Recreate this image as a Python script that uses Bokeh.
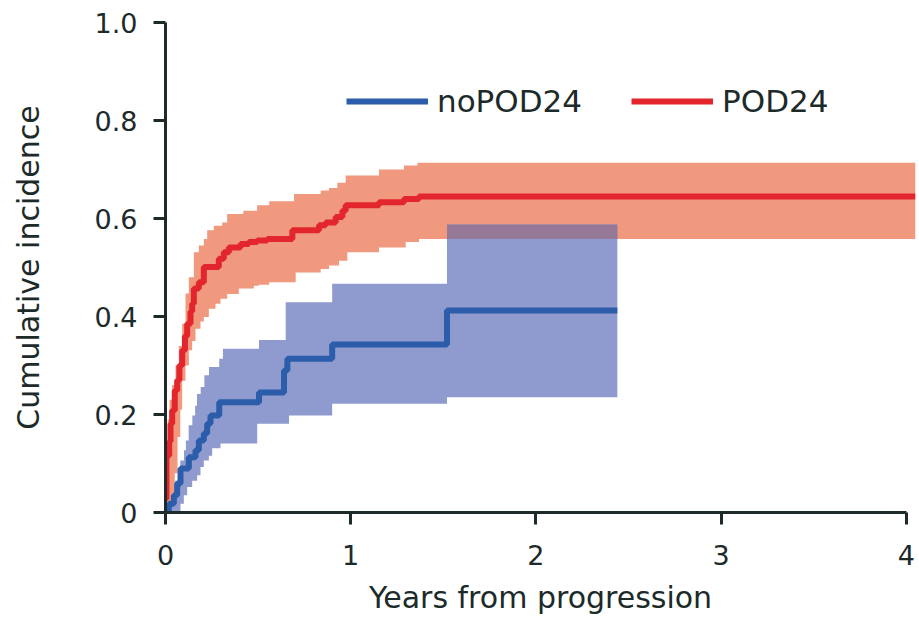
import numpy as np
from bokeh.plotting import figure
from bokeh.models import Range1d, FixedTicker, Legend, LegendItem
from bokeh.embed import file_html
from bokeh.resources import INLINE

# ---- data ----
# POD24 cumulative incidence (step, "after")
pod_x = [0.0, 0.005, 0.02, 0.027, 0.036, 0.05, 0.063, 0.075, 0.09, 0.105, 0.117, 0.135,
         0.144, 0.153, 0.18, 0.207, 0.288, 0.315, 0.342, 0.405, 0.45, 0.495, 0.55, 0.685,
         0.829, 0.865, 0.919, 0.955, 0.973, 1.153, 1.288, 1.369, 4.05]
pod_y = [0.028, 0.116, 0.145, 0.181, 0.208, 0.249, 0.27, 0.30, 0.331, 0.36, 0.385, 0.41,
         0.426, 0.457, 0.47, 0.501, 0.518, 0.531, 0.541, 0.548, 0.552, 0.555, 0.558, 0.576,
         0.586, 0.592, 0.603, 0.616, 0.627, 0.633, 0.64, 0.645, 0.645]
pod_up_x = [0.0, 0.004, 0.012, 0.022, 0.035, 0.054, 0.072, 0.09, 0.108, 0.126, 0.153, 0.18,
            0.207, 0.225, 0.261, 0.306, 0.333, 0.42, 0.495, 0.56, 0.694, 0.838, 0.883,
            0.928, 0.973, 1.153, 1.288, 1.36, 4.05]
pod_up_y = [0.04, 0.14, 0.19, 0.23, 0.26, 0.30, 0.34, 0.385, 0.447, 0.48, 0.531, 0.545,
            0.558, 0.576, 0.585, 0.592, 0.609, 0.616, 0.627, 0.635, 0.65, 0.657, 0.662,
            0.673, 0.688, 0.70, 0.708, 0.714, 0.714]
pod_lo_x = [0.0, 0.03, 0.05, 0.065, 0.08, 0.09, 0.108, 0.126, 0.144, 0.162, 0.189, 0.207,
            0.234, 0.27, 0.297, 0.333, 0.396, 0.477, 0.504, 0.56, 0.703, 0.838, 0.883,
            0.937, 0.982, 1.153, 1.297, 1.369, 4.05]
pod_lo_y = [0.0, 0.02, 0.08, 0.154, 0.21, 0.269, 0.30, 0.331, 0.35, 0.375, 0.39, 0.399,
            0.416, 0.426, 0.436, 0.446, 0.457, 0.463, 0.465, 0.47, 0.49, 0.497, 0.504,
            0.514, 0.531, 0.541, 0.552, 0.558, 0.558]

# noPOD24 cumulative incidence
nopod_x = [0.01, 0.018, 0.045, 0.063, 0.081, 0.126, 0.162, 0.18, 0.207, 0.225, 0.243,
           0.29, 0.505, 0.64, 0.658, 0.9, 1.52, 2.44]
nopod_y = [0.0, 0.018, 0.035, 0.059, 0.09, 0.113, 0.127, 0.147, 0.161, 0.181, 0.198,
           0.225, 0.245, 0.29, 0.314, 0.343, 0.412, 0.412]
nopod_up_x = [0.02, 0.05, 0.08, 0.10, 0.11, 0.125, 0.145, 0.16, 0.17, 0.19, 0.21, 0.235,
              0.29, 0.31, 0.505, 0.649, 0.9, 1.52, 2.44]
nopod_up_y = [0.018, 0.065, 0.106, 0.127, 0.147, 0.178, 0.198, 0.218, 0.242, 0.256, 0.28,
              0.297, 0.314, 0.334, 0.352, 0.429, 0.467, 0.588, 0.588]
nopod_lo_x = [0.02, 0.081, 0.099, 0.117, 0.144, 0.171, 0.189, 0.207, 0.234, 0.252, 0.297,
              0.495, 0.667, 0.9, 1.52, 2.44]
nopod_lo_y = [0.0, 0.018, 0.035, 0.052, 0.065, 0.076, 0.093, 0.106, 0.116, 0.131, 0.141,
              0.181, 0.198, 0.222, 0.235, 0.235]

x_ticks = [0, 1, 2, 3, 4]
y_ticks = [0, 0.2, 0.4, 0.6, 0.8, 1.0]
y_tick_labels = ["0", "0.2", "0.4", "0.6", "0.8", "1.0"]
series_names = ["noPOD24", "POD24"]


def merge_band(ux, uy, lx, ly):
    xs = np.union1d(ux, lx)
    ui = np.searchsorted(ux, xs, side="right") - 1
    li = np.searchsorted(lx, xs, side="right") - 1
    up = np.array(uy)[np.clip(ui, 0, None)]
    lo = np.array(ly)[np.clip(li, 0, None)]
    return xs, lo, up


def step_val(xs_src, ys_src, xs):
    i = np.searchsorted(xs_src, xs, side="right") - 1
    v = np.array(ys_src)[np.clip(i, 0, None)]
    return np.where(i < 0, np.nan, v)


TEXT = "#1d2a2a"
RED = "#E3262D"
BLUE = "#2C5DAA"
SALMON = "#F0997E"
LBLUE = "#8F9BCE"
OVERLAP = "#967897"

p = figure(frame_width=750, frame_height=490,
           x_range=Range1d(0, 4.05), y_range=Range1d(0, 1.0),
           output_backend="svg", toolbar_location=None,
           min_border_left=165, min_border_top=22, min_border_right=3,
           min_border_bottom=10)
p.xgrid.visible = False
p.ygrid.visible = False
p.outline_line_color = None
p.background_fill_color = "white"

# bands
rx, rlo, rup = merge_band(pod_up_x, pod_up_y, pod_lo_x, pod_lo_y)
p.varea_step(x=rx, y1=rlo, y2=rup, step_mode="after", fill_color=SALMON)
bx, blo, bup = merge_band(nopod_up_x, nopod_up_y, nopod_lo_x, nopod_lo_y)
p.varea_step(x=bx, y1=blo, y2=bup, step_mode="after", fill_color=LBLUE)

# overlap of the two bands
ox = np.union1d(rx, bx)
ox = ox[ox <= max(bx)]
r_lo_o = step_val(rx, rlo, ox)
r_up_o = step_val(rx, rup, ox)
b_lo_o = step_val(bx, blo, ox)
b_up_o = step_val(bx, bup, ox)
o_lo = np.maximum(r_lo_o, b_lo_o)
o_up = np.minimum(r_up_o, b_up_o)
o_up = np.where(o_up > o_lo, o_up, o_lo)
p.varea_step(x=ox, y1=o_lo, y2=o_up, step_mode="after", fill_color=OVERLAP)

# lines
r_blue = p.step(nopod_x, nopod_y, mode="after", line_color=BLUE, line_width=6)
r_red = p.step(pod_x, pod_y, mode="after", line_color=RED, line_width=6)

# axes
for ax in (p.xaxis[0], p.yaxis[0]):
    ax.axis_line_color = TEXT
    ax.axis_line_width = 3
    ax.major_tick_line_color = TEXT
    ax.major_tick_line_width = 3
    ax.major_tick_out = 12
    ax.major_tick_in = 0
    ax.minor_tick_line_color = None
    ax.major_label_text_font = "DejaVu Sans"
    ax.major_label_text_font_size = "27px"
    ax.major_label_text_color = TEXT
    ax.axis_label_text_font = "DejaVu Sans"
    ax.axis_label_text_font_size = "30px"
    ax.axis_label_text_font_style = "normal"
    ax.axis_label_text_color = TEXT

p.xaxis.ticker = FixedTicker(ticks=x_ticks)
p.xaxis.bounds = (0, 4)
p.xaxis.axis_label = "Years from progression"
p.xaxis.major_label_standoff = 20
p.xaxis.axis_label_standoff = 12

p.yaxis.ticker = FixedTicker(ticks=y_ticks)
p.yaxis.major_label_overrides = {t: s for t, s in zip(y_ticks, y_tick_labels)}
p.yaxis.axis_label = "Cumulative incidence"
p.yaxis.major_label_standoff = 16
p.yaxis.axis_label_standoff = 46

legend = Legend(items=[LegendItem(label=series_names[0], renderers=[r_blue]),
                       LegendItem(label=series_names[1], renderers=[r_red])],
                orientation="horizontal", location=(181, 393),
                glyph_width=82, glyph_height=30, label_standoff=9, spacing=49,
                padding=0, margin=0, border_line_color=None,
                background_fill_alpha=0,
                label_text_font="DejaVu Sans", label_text_font_size="31px",
                label_text_color=TEXT)
p.add_layout(legend)

open("out.html", "w").write(file_html(p, INLINE))
